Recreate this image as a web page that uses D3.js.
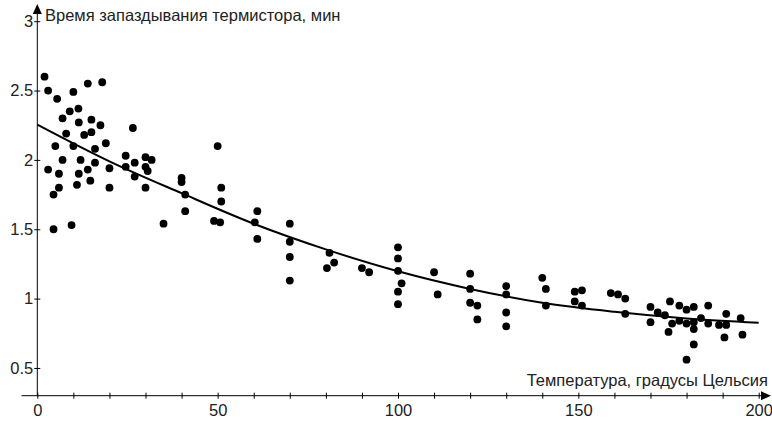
<!DOCTYPE html>
<html lang="ru">

<head>
    <meta charset="UTF-8">
    <title>Время запаздывания термистора</title>
    <script src="https://cdn.jsdelivr.net/npm/d3@7"></script>
    <style>
        * {
            margin: 0;
        }

        body {
            background: #fff;
        }

        svg text {
            font-family: "Liberation Sans", Arial, sans-serif;
            font-size: 16.5px;
            fill: #222;
        }
    </style>
</head>

<body>
    <svg id="chart" width="772" height="423"></svg>
    <script>
        // измерения: температура (°C) и время запаздывания (мин)
        var tempC = [2, 3, 14, 18, 5.5, 10, 7, 9, 11.4, 11.5,
            15, 17.5, 26.5, 8, 13, 15, 5, 10, 16, 19,
            7, 12, 16, 24.5, 3, 6, 11.5, 14, 20, 24.5,
            27, 30, 31.7, 30, 30.6, 27, 6, 11, 14.7, 20,
            30, 4.5, 4.5, 9.5, 35, 40, 40, 41, 41, 50,
            51, 51, 49, 50.7, 61, 60.3, 61, 70, 70, 70,
            70, 81, 82.3, 80.3, 90, 92, 100, 100, 100, 101,
            100, 100, 110, 111, 120, 120, 120, 122, 122, 130,
            130, 130, 130, 140, 141, 141, 149, 151, 149, 151,
            159, 161, 163, 163, 170, 172, 170, 174, 175.4, 176,
            175, 178, 178, 180, 180, 182, 182, 182, 182, 180,
            184, 186, 186, 189, 191, 191, 190.5, 195, 195.5];
        var delayMin = [2.60, 2.50, 2.55, 2.56, 2.44, 2.49, 2.30, 2.35, 2.37, 2.27,
            2.29, 2.25, 2.23, 2.19, 2.18, 2.20, 2.10, 2.10, 2.08, 2.12,
            2.00, 2.00, 1.98, 2.03, 1.93, 1.90, 1.90, 1.93, 1.94, 1.95,
            1.98, 2.02, 2.00, 1.95, 1.92, 1.88, 1.80, 1.82, 1.85, 1.80,
            1.80, 1.75, 1.50, 1.53, 1.54, 1.87, 1.84, 1.75, 1.63, 2.10,
            1.80, 1.70, 1.56, 1.55, 1.63, 1.55, 1.43, 1.54, 1.41, 1.30,
            1.13, 1.33, 1.26, 1.22, 1.22, 1.19, 1.37, 1.29, 1.20, 1.11,
            1.05, 0.96, 1.19, 1.03, 1.18, 1.07, 0.97, 0.95, 0.85, 1.09,
            1.03, 0.90, 0.80, 1.15, 1.07, 0.95, 1.05, 1.06, 0.98, 0.95,
            1.04, 1.03, 1.00, 0.89, 0.94, 0.90, 0.83, 0.88, 0.98, 0.82,
            0.76, 0.95, 0.84, 0.92, 0.82, 0.94, 0.83, 0.78, 0.67, 0.56,
            0.86, 0.95, 0.82, 0.81, 0.89, 0.81, 0.72, 0.86, 0.74];

        // линия тренда
        var fitTemp = [0, 20, 40, 60, 80, 100, 120, 140, 160, 180, 200];
        var fitDelay = [2.255, 1.99, 1.76, 1.54, 1.355, 1.197, 1.07, 0.97, 0.905, 0.857, 0.826];

        // подписи осей
        var xTicks = d3.range(0, 201, 10);
        var xLabels = [0, 50, 100, 150, 200];
        var yTicks = [0.5, 1, 1.5, 2, 2.5, 3];
        var xTitle = "Температура, градусы Цельсия";
        var yTitle = "Время запаздывания термистора, мин";

        var svg = d3.select("#chart");

        var x = d3.scaleLinear().domain([0, 200]).range([37.3, 758.7]);
        var y = d3.scaleLinear().domain([0.3, 3]).range([395.7, 21.2]);

        var x0 = x(0), y0 = y(0.3);

        // ось X
        var xAxis = svg.append("g")
            .attr("transform", "translate(0," + y0 + ")")
            .call(d3.axisBottom(x)
                .tickValues(xTicks)
                .tickSize(3)
                .tickFormat(function (d) { return xLabels.indexOf(d) >= 0 ? d : ""; }));
        xAxis.select(".domain").remove();
        xAxis.selectAll(".tick line").attr("y1", -3).attr("stroke", "#000");
        xAxis.selectAll(".tick text")
            .attr("y", 15)
            .attr("dy", "0.35em")
            .attr("font-size", null)
            .attr("font-family", null);

        // ось Y
        var yAxis = svg.append("g")
            .attr("transform", "translate(" + x0 + ",0)")
            .call(d3.axisLeft(y)
                .tickValues(yTicks)
                .tickSize(3)
                .tickFormat(function (d) { return String(d); }));
        yAxis.select(".domain").remove();
        yAxis.selectAll(".tick line").attr("x1", 3).attr("stroke", "#000");
        yAxis.selectAll(".tick text")
            .attr("x", -4)
            .attr("font-size", null)
            .attr("font-family", null);

        // линии осей со стрелками
        svg.append("line")
            .attr("x1", 21.5).attr("x2", 762)
            .attr("y1", y0).attr("y2", y0)
            .attr("stroke", "#000");
        svg.append("path")
            .attr("d", "M771," + y0 + "L761," + (y0 - 4.5) + "L761," + (y0 + 4.5) + "Z")
            .attr("fill", "#000");
        svg.append("line")
            .attr("x1", x0).attr("x2", x0)
            .attr("y1", y0).attr("y2", 14)
            .attr("stroke", "#000");
        svg.append("path")
            .attr("d", "M" + x0 + ",4L" + (x0 - 4.5) + ",14L" + (x0 + 4.5) + ",14Z")
            .attr("fill", "#000");

        // названия осей
        svg.append("text")
            .attr("x", 45).attr("y", 21)
            .text(yTitle);
        svg.append("text")
            .attr("x", 768).attr("y", 386)
            .attr("text-anchor", "end")
            .text(xTitle);

        // кривая
        var line = d3.line()
            .x(function (d, i) { return x(fitTemp[i]); })
            .y(function (d) { return y(d); })
            .curve(d3.curveMonotoneX);
        svg.append("path")
            .datum(fitDelay)
            .attr("d", line)
            .attr("fill", "none")
            .attr("stroke", "#000")
            .attr("stroke-width", 2);

        // точки
        svg.selectAll("circle.pt")
            .data(delayMin)
            .enter()
            .append("circle")
            .attr("class", "pt")
            .attr("cx", function (d, i) { return x(tempC[i]); })
            .attr("cy", function (d) { return y(d); })
            .attr("r", 3.9)
            .attr("fill", "#000");
    </script>
</body>

</html>
